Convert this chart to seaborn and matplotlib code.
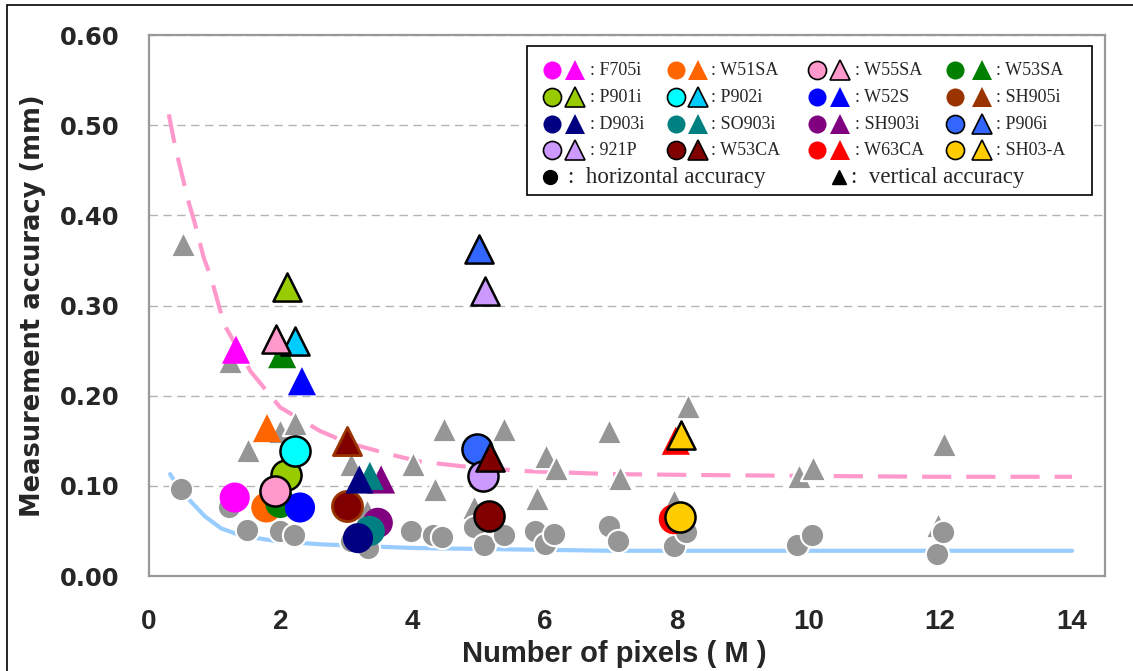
import numpy as np
import matplotlib
matplotlib.use('Agg')
import matplotlib.pyplot as plt
import seaborn as sns

# 機種名と色
models = ['F705i', 'W51SA', 'W55SA', 'W53SA',
          'P901i', 'P902i', 'W52S', 'SH905i',
          'D903i', 'SO903i', 'SH903i', 'P906i',
          '921P', 'W53CA', 'W63CA', 'SH03-A']
circ_colors = ['#FF00FF', '#FF6600', '#FF99CC', '#008000',
               '#99CC00', '#00FFFF', '#0000FF', '#993300',
               '#000080', '#008080', '#800080', '#3366FF',
               '#CC99FF', '#800000', '#FF0000', '#FFCC00']
tri_colors = ['#FF00FF', '#FF6600', '#FF99CC', '#008000',
              '#99CC00', '#00CCFF', '#0000FF', '#993300',
              '#000080', '#008080', '#800080', '#3366FF',
              '#CC99FF', '#800000', '#FF0000', '#FFCC00']
black_edge = [False, False, True, False,
              True, True, False, False,
              False, False, False, True,
              True, True, False, True]

# horizontal accuracy (circle) / vertical accuracy (triangle)
circ_x = [1.30, 1.78, 1.91, 1.99, 2.08, 2.21, 2.29, 3.00,
          3.17, 3.35, 3.47, 4.98, 5.07, 5.16, 7.96, 8.06]
circ_y = [0.087, 0.076, 0.094, 0.081, 0.112, 0.139, 0.076, 0.078,
          0.042, 0.050, 0.059, 0.141, 0.111, 0.067, 0.063, 0.065]
tri_x = [1.32, 1.79, 1.92, 2.02, 2.10, 2.22, 2.32, 3.01,
         3.19, 3.35, 3.52, 5.00, 5.09, 5.17, 7.99, 8.07]
tri_y = [0.251, 0.164, 0.263, 0.246, 0.320, 0.261, 0.216, 0.150,
         0.107, 0.111, 0.107, 0.363, 0.316, 0.132, 0.150, 0.156]

# その他の機種 (gray)
gray_circ_x = [0.49, 1.21, 1.49, 1.98, 2.20, 3.07, 3.32, 3.98, 4.31, 4.45,
               4.93, 5.08, 5.38, 5.86, 6.01, 6.15, 6.97, 7.12, 7.96, 8.15,
               9.83, 10.05, 11.95, 12.04]
gray_circ_y = [0.096, 0.076, 0.051, 0.050, 0.046, 0.039, 0.031, 0.050, 0.046, 0.043,
               0.054, 0.034, 0.045, 0.050, 0.036, 0.047, 0.056, 0.039, 0.033, 0.049,
               0.034, 0.045, 0.024, 0.049]
gray_tri_x = [0.51, 1.23, 1.50, 1.99, 2.22, 3.07, 3.30, 4.00, 4.34, 4.48,
              4.93, 5.39, 5.88, 6.02, 6.17, 6.98, 7.14, 7.97, 8.17,
              9.86, 10.07, 11.96, 12.06]
gray_tri_y = [0.368, 0.239, 0.140, 0.161, 0.170, 0.124, 0.072, 0.124, 0.096, 0.163,
              0.077, 0.163, 0.087, 0.133, 0.120, 0.161, 0.109, 0.083, 0.189,
              0.111, 0.120, 0.057, 0.146]

# 近似曲線
blue_x = [0.32, 0.45, 0.63, 0.85, 1.09, 1.35, 1.64, 2.0, 2.64, 3.3,
          4.05, 5.0, 6.0, 7.0, 8.0, 10.0, 12.0, 14.0]
blue_y = [0.113, 0.098, 0.083, 0.066, 0.053, 0.046, 0.042, 0.038, 0.035, 0.033,
          0.031, 0.030, 0.029, 0.028, 0.028, 0.028, 0.028, 0.028]
pink_x = [0.30, 0.40, 0.50, 0.60, 0.70, 0.83, 0.94, 1.14, 1.54, 1.99,
          2.59, 3.0, 3.65, 4.10, 4.96, 5.81, 7.02, 8.33, 10.0, 12.0, 14.0]
pink_y = [0.512, 0.475, 0.445, 0.415, 0.390, 0.353, 0.331, 0.279, 0.227, 0.187,
          0.161, 0.148, 0.135, 0.127, 0.120, 0.116, 0.113, 0.112, 0.111, 0.110, 0.110]

x_ticks = [0, 2, 4, 6, 8, 10, 12, 14]
y_ticks = [0.0, 0.1, 0.2, 0.3, 0.4, 0.5, 0.6]

# %%
sns.set_theme(style='white')
plt.rcParams['font.family'] = ['DejaVu Sans']

fig = plt.figure(figsize=(11.33, 6.71), dpi=100)
ax = fig.add_axes([149/1133, 1 - 576/671, 956/1133, 541/671])

sns.lineplot(x=blue_x, y=blue_y, color='#99CCFF', lw=3, ax=ax, zorder=1.5)
sns.lineplot(x=pink_x, y=pink_y, color='#FF99CC', lw=3, ax=ax, zorder=1.5,
             linestyle=(0, (7, 3.6)), solid_capstyle='butt', dash_capstyle='butt')

sns.scatterplot(x=gray_tri_x, y=gray_tri_y, marker='^', s=330, color='#969696',
                edgecolor='white', linewidth=1.5, ax=ax, zorder=2)
sns.scatterplot(x=gray_circ_x, y=gray_circ_y, marker='o', s=280, color='#969696',
                edgecolor='white', linewidth=1.5, ax=ax, zorder=2)

draw_order = [10, 9, 8, 1, 3, 6, 0, 4, 5, 2, 7, 11, 12, 13, 14, 15]
plot_fill = {'SH905i': '#800000'}

def edge_style(i):
    if black_edge[i]:
        return 'black', 1.8
    if models[i] == 'SH905i':
        return '#993300', 2.0
    return 'none', 0

for i in draw_order:
    ec, lw = edge_style(i)
    fc = plot_fill.get(models[i], circ_colors[i])
    sns.scatterplot(x=[circ_x[i]], y=[circ_y[i]], marker='o', s=470, color=fc,
                    edgecolor=ec, linewidth=lw, ax=ax, zorder=3)
for i in draw_order:
    ec, lw = edge_style(i)
    fc = plot_fill.get(models[i], tri_colors[i])
    sns.scatterplot(x=[tri_x[i]], y=[tri_y[i]], marker='^', s=410, color=fc,
                    edgecolor=ec, linewidth=lw, ax=ax, zorder=3)

ax.set_xlim(0, 14.5)
ax.set_ylim(0, 0.6)
ax.set_xticks(x_ticks)
ax.set_yticks(y_ticks)
ax.set_yticklabels([f'{v:.2f}' for v in y_ticks], fontsize=17.5, fontweight='bold')
ax.set_xticklabels([str(v) for v in x_ticks], fontsize=20, fontweight='bold',
                   family=['Liberation Sans', 'DejaVu Sans'])
ax.tick_params(axis='both', direction='in', length=8, width=1, color='#999999')
ax.tick_params(axis='y', pad=21)
ax.tick_params(axis='x', pad=24)
ax.yaxis.grid(True, ls=(0, (6, 4)), color='#b4b4b4', lw=1)
ax.set_axisbelow(True)
for sp in ax.spines.values():
    sp.set_color('#999999')
    sp.set_linewidth(1.6)

ax.set_xlabel('Number of pixels ( M )', fontsize=21, fontweight='bold',
              family=['Liberation Sans', 'DejaVu Sans'])
ax.xaxis.set_label_coords(0.487, -0.118)
ax.set_ylabel('Measurement accuracy (mm)', fontsize=18.5, fontweight='bold')
ax.yaxis.set_label_coords(-0.108, 0.5)

# legend (hand-made, 4 columns)
def ax_x(px):
    return (px - 149) / 956

def ax_y(py):
    return (576 - py) / 541

ax.add_patch(plt.Rectangle((ax_x(527), ax_y(195)), ax_x(1092) - ax_x(527),
                           ax_y(46) - ax_y(195), transform=ax.transAxes,
                           facecolor='white', edgecolor='black', lw=1.2, zorder=5))
row_py = [70, 97, 124, 150]
col_circ = [551.5, 675.5, 817, 955]
col_tri = [575, 697.5, 840, 982]
col_txt = [590, 711, 855, 996]
serif = ['Liberation Serif', 'DejaVu Serif']
for i, name in enumerate(models):
    r, c = divmod(i, 4)
    ec = 'black' if black_edge[i] else 'none'
    ax.plot(ax_x(col_circ[c]), ax_y(row_py[r]), 'o', ms=13, mfc=circ_colors[i], mec=ec,
            mew=1.2, transform=ax.transAxes, clip_on=False, zorder=6)
    ax.plot(ax_x(col_tri[c]), ax_y(row_py[r]), '^', ms=14, mfc=tri_colors[i], mec=ec,
            mew=1.2, transform=ax.transAxes, clip_on=False, zorder=6)
    ax.text(ax_x(col_txt[c]), ax_y(row_py[r]), ': ' + name, transform=ax.transAxes,
            fontsize=13, family=serif, va='center', ha='left', zorder=6)
ax.plot(ax_x(550), ax_y(177), 'o', ms=10, color='black', transform=ax.transAxes,
        clip_on=False, zorder=6)
ax.text(ax_x(568), ax_y(177), ':  horizontal accuracy', transform=ax.transAxes,
        fontsize=16.5, family=serif, va='center', ha='left', zorder=6)
ax.plot(ax_x(839), ax_y(177), '^', ms=10, color='black', transform=ax.transAxes,
        clip_on=False, zorder=6)
ax.text(ax_x(851), ax_y(177), ':  vertical accuracy', transform=ax.transAxes,
        fontsize=16.5, family=serif, va='center', ha='left', zorder=6)

fig.add_artist(plt.Rectangle((7/1133, -0.05), 1.1, 666/671 + 0.05, transform=fig.transFigure,
                             fill=False, edgecolor='black', lw=1.2))

fig.savefig('out.png', dpi=100, facecolor='white')
